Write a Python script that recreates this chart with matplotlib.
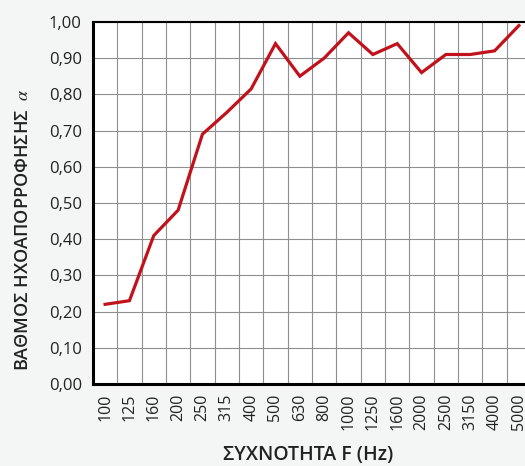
import numpy as np
import matplotlib.pyplot as plt

freqs = ["100", "125", "160", "200", "250", "315", "400", "500", "630", "800",
         "1000", "1250", "1600", "2000", "2500", "3150", "4000", "5000"]
alpha = [0.22, 0.23, 0.41, 0.48, 0.69, 0.75, 0.815, 0.94, 0.85, 0.90,
         0.97, 0.91, 0.94, 0.86, 0.91, 0.91, 0.92, 0.99]
yticks = np.round(np.arange(0, 1.01, 0.1), 2)

plt.rcParams["font.family"] = ["Open Sans", "DejaVu Sans"]
plt.rcParams["mathtext.fontset"] = "stix"

fig = plt.figure(figsize=(5.25, 4.66), dpi=100, facecolor="#f4f5f5")
ax = fig.add_axes([0.177, 0.176, 0.823, 0.777])
ax.set_facecolor("white")

x = np.arange(len(freqs))
ax.plot(x, alpha, color="#c1121b", lw=2.3, solid_joinstyle="miter", zorder=3)

ax.set_xlim(-0.5, 17.25)
ax.set_ylim(0, 1)
ax.set_xticks(x)
ax.set_xticklabels(freqs, rotation=90, fontsize=11.5, color="#222222")
ax.set_xticks(np.arange(-0.5, 17.5, 1), minor=True)
ax.set_yticks(yticks)
ax.set_yticklabels([f"{v:.2f}".replace(".", ",") for v in yticks], fontsize=12, color="#222222")
ax.tick_params(axis="x", which="both", length=0, pad=7)
ax.tick_params(axis="y", which="both", length=0, pad=8)

ax.grid(True, which="minor", axis="x", color="#8f8f8f", lw=0.8)
ax.grid(True, which="major", axis="y", color="#8f8f8f", lw=0.8)

for side in ["left", "bottom"]:
    ax.spines[side].set_linewidth(2.2)
ax.spines["top"].set_linewidth(1.5)
ax.spines["right"].set_visible(False)

ax.set_xlabel("ΣΥΧΝΟΤΗΤΑ F (Hz)", fontsize=14, fontweight="semibold", color="#222222")
ax.xaxis.set_label_coords(0.498, -0.168)
ax.set_ylabel(r"ΒΑΘΜΟΣ ΗΧΟΑΠΟΡΡΟΦΗΣΗΣ  $\alpha$", fontsize=13, fontweight="semibold", color="#222222")
ax.yaxis.set_label_coords(-0.14, 0.425)

fig.savefig("out.png", dpi=100, facecolor=fig.get_facecolor())
